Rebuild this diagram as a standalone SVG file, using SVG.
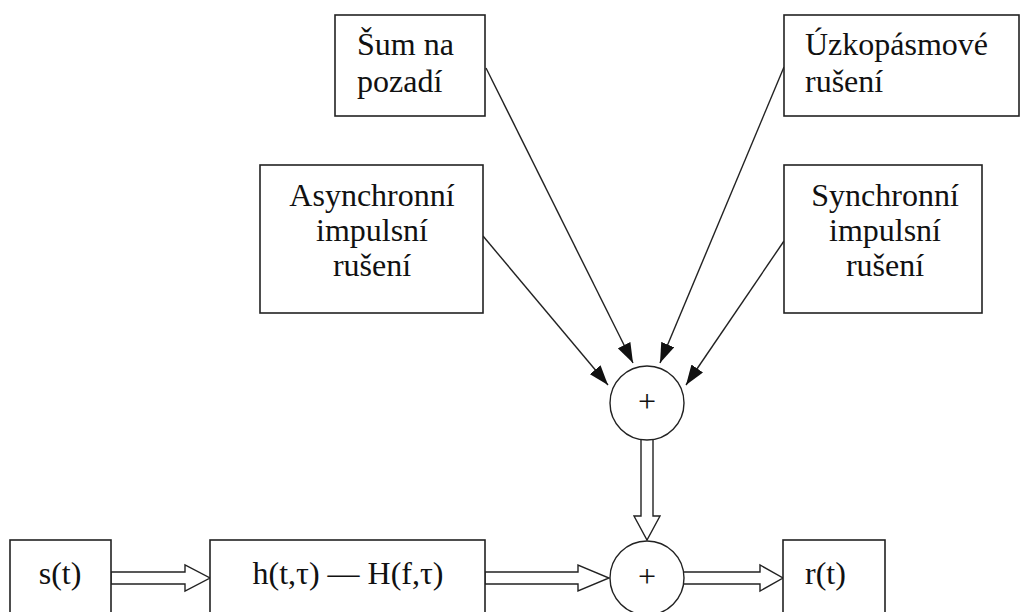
<svg xmlns="http://www.w3.org/2000/svg" width="1022" height="612" viewBox="0 0 1022 612">
<defs>
<style>
.box{fill:#fff;stroke:#222;stroke-width:1.6}
.circ{fill:#fff;stroke:#222;stroke-width:1.4}
.t{font-family:"Liberation Serif","Times New Roman",serif;font-size:32px;fill:#111}
.c{text-anchor:middle}
.thin{stroke:#222;stroke-width:1.4;fill:none;marker-end:url(#ah)}
.hollow{fill:#fff;stroke:#222;stroke-width:1.4;stroke-linejoin:miter}
</style>
<marker id="ah" viewBox="0 0 20 14" refX="20" refY="7" markerWidth="20" markerHeight="14" markerUnits="userSpaceOnUse" orient="auto">
<path d="M0,0 L20,7 L0,14 Z" fill="#111"/>
</marker>
</defs>
<rect width="1022" height="612" fill="#fff"/>
<g id="connectors">
<line class="thin" x1="486" y1="68" x2="633" y2="363"/>
<line class="thin" x1="784" y1="67" x2="660" y2="363"/>
<line class="thin" x1="483" y1="236" x2="608" y2="385"/>
<line class="thin" x1="784" y1="241" x2="686" y2="385"/>
<polygon class="hollow" points="641,432 641,516 634,516 647,540 660,516 653,516 653,432"/>
<polygon class="hollow" points="111,572 185,572 185,565 210,578 185,591 185,584 111,584"/>
<polygon class="hollow" points="485,572 578,572 578,565 609,578 578,591 578,584 485,584"/>
<polygon class="hollow" points="678,572 760,572 760,565 783,578 760,591 760,584 678,584"/>
</g>
<g id="sum">
<rect class="box" x="335" y="15" width="150" height="101"/>
<text class="t" x="357" y="55">Šum na</text>
<text class="t" x="357" y="92">pozadí</text>
</g>
<g id="uzko">
<rect class="box" x="784" y="15" width="235" height="101"/>
<text class="t" x="805" y="55">Úzkopásmové</text>
<text class="t" x="805" y="92">rušení</text>
</g>
<g id="async">
<rect class="box" x="260" y="165" width="223" height="148"/>
<text class="t c" x="372" y="206">Asynchronní</text>
<text class="t c" x="372" y="241">impulsní</text>
<text class="t c" x="372" y="276">rušení</text>
</g>
<g id="sync">
<rect class="box" x="784" y="165" width="198" height="148"/>
<text class="t c" x="885" y="206">Synchronní</text>
<text class="t c" x="885" y="241">impulsní</text>
<text class="t c" x="885" y="276">rušení</text>
</g>
<g id="sum1">
<circle class="circ" cx="647" cy="403" r="37"/>
<text class="t c" x="647" y="412">+</text>
</g>
<g id="sum2">
<circle class="circ" cx="647" cy="578" r="37"/>
<text class="t c" x="647" y="587">+</text>
</g>
<g id="s">
<rect class="box" x="10" y="540" width="101" height="90"/>
<text class="t c" x="60" y="584">s(t)</text>
</g>
<g id="h">
<rect class="box" x="210" y="540" width="275" height="90"/>
<text class="t c" x="348" y="584">h(t,τ)  —  H(f,τ)</text>
</g>
<g id="r">
<rect class="box" x="783" y="540" width="102" height="90"/>
<text class="t" x="805" y="584">r(t)</text>
</g>
</svg>
